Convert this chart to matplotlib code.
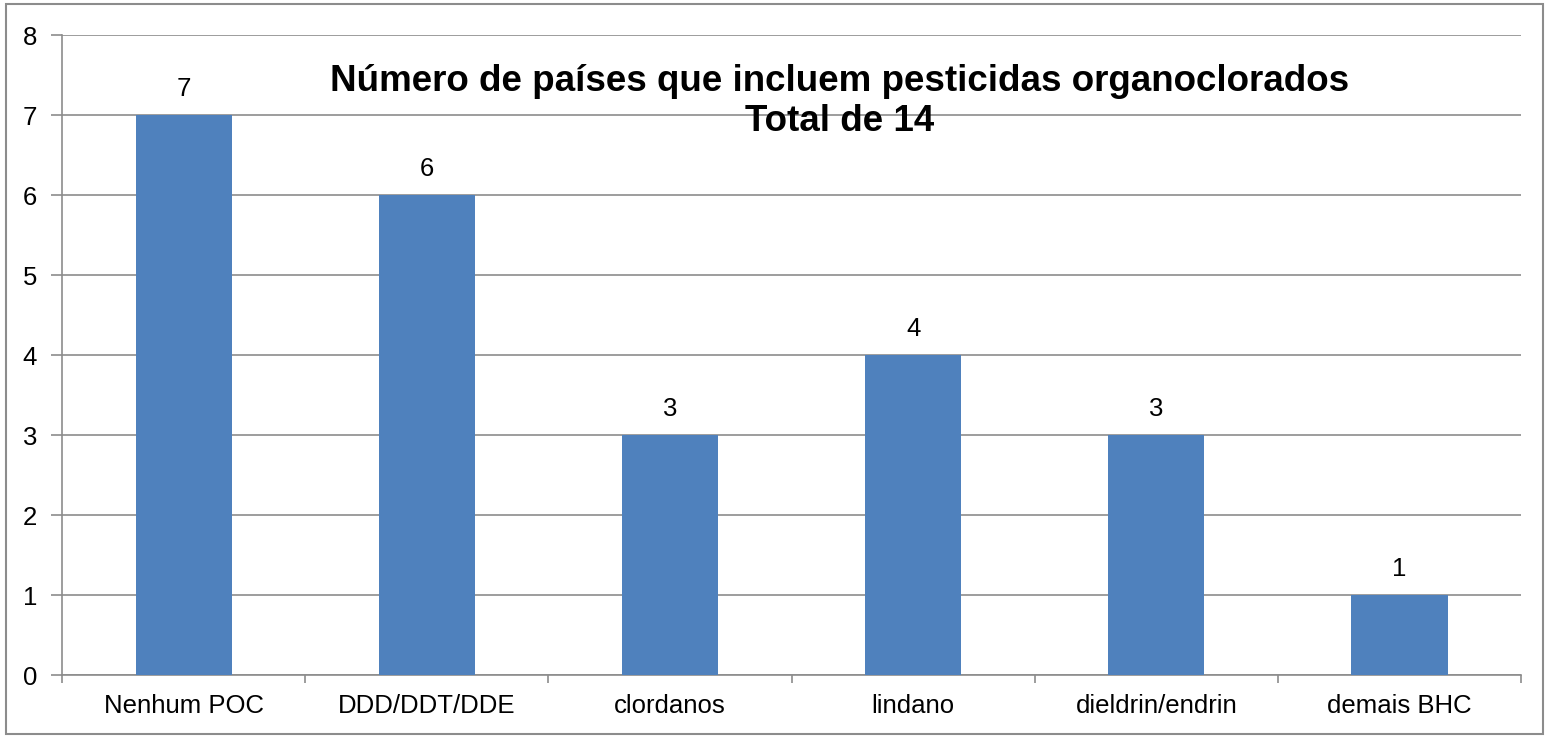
import numpy as np
import matplotlib.pyplot as plt
from matplotlib.patches import Rectangle

plt.rcParams['font.family'] = ['Liberation Sans', 'DejaVu Sans']

categorias = ['Nenhum POC', 'DDD/DDT/DDE', 'clordanos', 'lindano', 'dieldrin/endrin', 'demais BHC']
valores = [7, 6, 3, 4, 3, 1]
titulo = 'Número de países que incluem pesticidas organoclorados\nTotal de 14'

fig = plt.figure(figsize=(15.49, 7.37), dpi=100)
ax = fig.add_axes([0.04, 0.0841, 0.942, 0.8684])

x = np.arange(len(categorias))
ax.bar(x, valores, width=0.395, color='#4F81BD', zorder=3)
for xi, v in zip(x, valores):
    ax.text(xi, v + 0.18, str(v), ha='center', va='bottom', fontsize=18.5)

ax.set_xlim(-0.5, len(categorias) - 0.5)
ax.set_ylim(0, 8)
ax.set_yticks(range(0, 9))
ax.yaxis.grid(True, color='#8c8c8c', linewidth=1.2, zorder=0)
ax.set_xticks(x)
ax.set_xticklabels(categorias, fontsize=18.5)
ax.set_xticks(np.arange(-0.5, len(categorias)), minor=True)
ax.tick_params(axis='x', which='major', length=0, pad=14)
ax.tick_params(axis='x', which='minor', length=6, color='#8c8c8c', width=1.2)
ax.tick_params(axis='y', length=8, color='#8c8c8c', width=1.2, labelsize=18.5, pad=10)
for s in ['top', 'right']:
    ax.spines[s].set_visible(False)
for s in ['left', 'bottom']:
    ax.spines[s].set_color('#8c8c8c')
    ax.spines[s].set_linewidth(1.2)

fig.text(0.542, 0.862, titulo, ha='center', va='center', fontsize=26.5,
         fontweight='bold', linespacing=1.2)

fig.patches.append(Rectangle((0.004, 0.004), 0.992, 0.99, transform=fig.transFigure,
                             fill=False, edgecolor='#8c8c8c', linewidth=1.5))

fig.savefig('out.png', dpi=100)
